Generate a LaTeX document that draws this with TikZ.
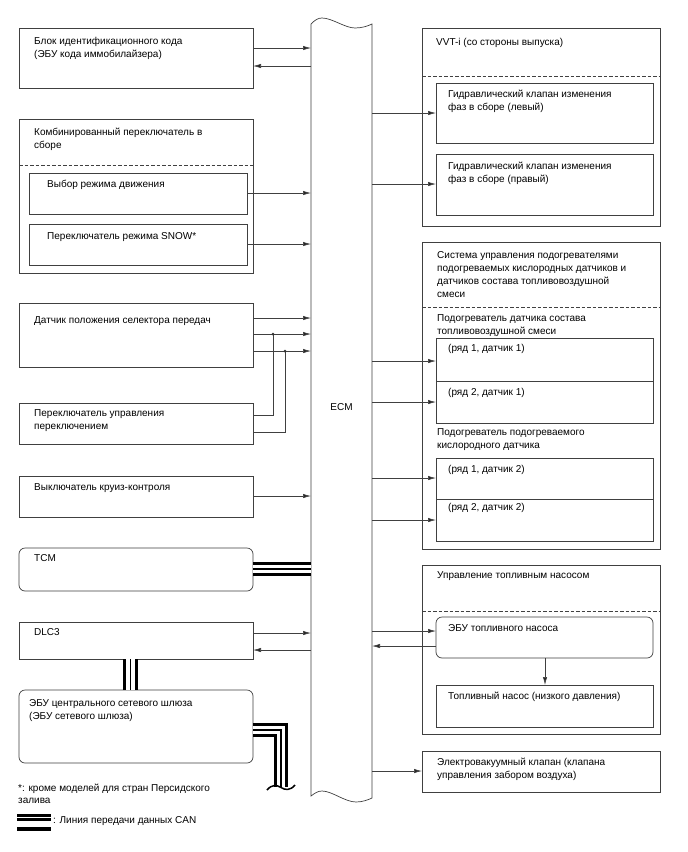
\documentclass[tikz,border=0pt]{standalone}
\usepackage{fontspec}
\setmainfont{Liberation Sans}
\usetikzlibrary{arrows.meta}
\newcommand{\canline}[1]{\draw[line width=14.5pt] #1; \draw[white,line width=8.5pt] #1; \draw[line width=1.6pt] #1;}
\begin{document}
\begin{tikzpicture}[x=1pt,y=-1pt,line join=miter,
  ln/.style={draw=black!75, line width=0.7pt},
  box/.style={ln, rectangle, inner sep=0pt, outer sep=0pt, anchor=north west},
  rbox/.style={box, rounded corners=6pt},
  lbl/.style={anchor=base west, inner sep=0pt, align=left, font=\fontsize{10}{13}\selectfont},
  arr/.style={ln, -{Latex[length=8pt,width=4.4pt,fill=black!85]}},
  dsh/.style={ln, dash pattern=on 3.5pt off 2pt},
]
\useasboundingbox[fill=white] (0,0) rectangle (688,852);

% ECM
\node[inner sep=0pt, outer sep=0pt, minimum width=61pt, minimum height=772pt, anchor=north west] (ecm) at (311,24) {};
\draw[ln] (311,24) .. controls (315,20) and (318,18) .. (322,18) .. controls (332,18) and (345,28) .. (355,28) .. controls (362,28) and (368,26) .. (372,24) -- (372,798) .. controls (368,800) and (362,802) .. (356,802) .. controls (345,802) and (332,791) .. (322,791) .. controls (318,791) and (315,793) .. (311,796) -- cycle;
\node[font=\fontsize{10}{13}\selectfont, inner sep=0pt] (ecmtext) at (341.5,407) {ECM};

% left side
\node[box, minimum width=234pt, minimum height=60pt] (id) at (19,28) {};
\node[lbl] (idt) at (34,57) {Блок идентификационного кода\\(ЭБУ кода иммобилайзера)};
\draw[arr] (id.east |- 0,48) -- (ecm.west |- 0,48);
\draw[arr] (ecm.west |- 0,66) -- (id.east |- 0,66);

\node[box, minimum width=234pt, minimum height=154pt] (comb) at (19,119) {};
\node[lbl] (combt) at (34,148.5) {Комбинированный переключатель в\\сборе};
\draw[dsh] (comb.west |- 0,165) -- (comb.east |- 0,165);
\node[box, minimum width=218pt, minimum height=41pt] (drv) at (29,173) {};
\node[lbl] (drvt) at (47,187.5) {Выбор режима движения};
\draw[arr] (drv.east |- 0,193) -- (ecm.west |- 0,193);
\node[box, minimum width=218pt, minimum height=41pt] (snow) at (29,224) {};
\node[lbl] (snowt) at (47,239) {Переключатель режима SNOW*};
\draw[arr] (snow.east |- 0,244) -- (ecm.west |- 0,244);

\node[box, minimum width=234pt, minimum height=64pt] (sel) at (19,303) {};
\node[lbl] (selt) at (34,323.5) {Датчик положения селектора передач};
\draw[arr] (sel.east |- 0,318) -- (ecm.west |- 0,318);
\draw[arr] (sel.east |- 0,334) -- (ecm.west |- 0,334);
\draw[arr] (sel.east |- 0,351) -- (ecm.west |- 0,351);

\node[box, minimum width=234pt, minimum height=41pt] (shift) at (19,403) {};
\node[lbl] (shiftt) at (34,429.5) {Переключатель управления\\переключением};
\coordinate (j1) at (273,334);
\coordinate (j2) at (285,351);
\draw[ln] (shift.east |- 0,415) -| (j1);
\draw[ln] (shift.east |- 0,432) -| (j2);
\fill[black!80] (j1) circle (1.5pt);
\fill[black!80] (j2) circle (1.5pt);

\node[box, minimum width=234pt, minimum height=41pt] (cruise) at (19,476) {};
\node[lbl] (cruiset) at (34,490.5) {Выключатель круиз-контроля};
\draw[arr] (cruise.east |- 0,496) -- (ecm.west |- 0,496);

\node[rbox, minimum width=234pt, minimum height=43pt] (tcm) at (19,548) {};
\node[lbl] (tcmt) at (34,561.5) {TCM};
\canline{(tcm.east |- 0,569) -- (ecm.west |- 0,569)}

\node[box, minimum width=234pt, minimum height=37pt] (dlc) at (19,622) {};
\node[lbl] (dlct) at (34,635.5) {DLC3};
\draw[arr] (dlc.east |- 0,633) -- (ecm.west |- 0,633);
\draw[arr] (ecm.west |- 0,650) -- (dlc.east |- 0,650);

\node[rbox, minimum width=234pt, minimum height=73pt] (gw) at (19,690) {};
\node[lbl] (gwt) at (29,719.5) {ЭБУ центрального сетевого шлюза\\(ЭБУ сетевого шлюза)};
\canline{(dlc.south -| 130.5,0) -- (gw.north -| 130.5,0)}
\coordinate (gwb) at (281,730);
\coordinate (gwe) at (281,787);
\canline{(gw.east |- gwb) -- (gwb) -- (gwe)}
\draw[line width=1.5pt] (267,790) .. controls (272,784) and (277,785) .. (281,787.5) .. controls (285,790) and (290,791) .. (295,785);

\node[lbl, font=\fontsize{10}{11.5}\selectfont] (note) at (18,803) {*: кроме моделей для стран Персидского\\залива};
\fill (17,814) rectangle (51,816.7);
\fill (17,818.3) rectangle (51,820.7);
\fill (17,827) rectangle (51,830.7);
\node[lbl] (leg) at (53,823.5) {: Линия передачи данных CAN};

% right side
\node[box, minimum width=238pt, minimum height=198pt] (vvt) at (422,28) {};
\node[lbl] (vvtt) at (436,45.5) {VVT-i (со стороны выпуска)};
\draw[dsh] (vvt.west |- 0,76) -- (vvt.east |- 0,76);
\node[box, minimum width=217pt, minimum height=60pt] (ocvl) at (436,83) {};
\node[lbl] (ocvlt) at (448,110.5) {Гидравлический клапан изменения\\фаз в сборе (левый)};
\draw[arr] (ecm.east |- 0,113) -- (ocvl.west |- 0,113);
\node[box, minimum width=217pt, minimum height=61pt] (ocvr) at (436,154) {};
\node[lbl] (ocvrt) at (448,182) {Гидравлический клапан изменения\\фаз в сборе (правый)};
\draw[arr] (ecm.east |- 0,184) -- (ocvr.west |- 0,184);

\node[box, minimum width=238pt, minimum height=307pt] (heat) at (422,242) {};
\node[lbl] (heatt) at (437,297.5) {Система управления подогревателями\\подогреваемых кислородных датчиков и\\датчиков состава топливовоздушной\\смеси};
\draw[dsh] (heat.west |- 0,307) -- (heat.east |- 0,307);
\node[lbl] (aft) at (437,334.5) {Подогреватель датчика состава\\топливовоздушной смеси};
\node[box, minimum width=217pt, minimum height=85pt] (af) at (436,338) {};
\draw[ln] (af.west |- 0,381) -- (af.east |- 0,381);
\node[lbl] (af1) at (448,351.5) {(ряд 1, датчик 1)};
\node[lbl] (af2) at (448,395.5) {(ряд 2, датчик 1)};
\draw[arr] (ecm.east |- 0,361) -- (af.west |- 0,361);
\draw[arr] (ecm.east |- 0,402) -- (af.west |- 0,402);
\node[lbl] (o2t) at (437,448.5) {Подогреватель подогреваемого\\кислородного датчика};
\node[box, minimum width=217pt, minimum height=83pt] (o2) at (436,458) {};
\draw[ln] (o2.west |- 0,499) -- (o2.east |- 0,499);
\node[lbl] (o21) at (448,472.5) {(ряд 1, датчик 2)};
\node[lbl] (o22) at (448,510.5) {(ряд 2, датчик 2)};
\draw[arr] (ecm.east |- 0,478) -- (o2.west |- 0,478);
\draw[arr] (ecm.east |- 0,520) -- (o2.west |- 0,520);

\node[box, minimum width=238pt, minimum height=169pt] (fp) at (422,565) {};
\node[lbl] (fpt) at (437,578.5) {Управление топливным насосом};
\draw[dsh] (fp.west |- 0,611) -- (fp.east |- 0,611);
\node[rbox, minimum width=217pt, minimum height=41pt] (fpecu) at (436,617) {};
\node[lbl] (fpecut) at (448,631.5) {ЭБУ топливного насоса};
\draw[arr] (ecm.east |- 0,631) -- (fpecu.west |- 0,631);
\draw[arr] (fpecu.west |- 0,646) -- (ecm.east |- 0,646);
\node[box, minimum width=217pt, minimum height=42pt] (pump) at (436,685) {};
\node[lbl] (pumpt) at (448,699.5) {Топливный насос (низкого давления)};
\draw[arr] (fpecu.south -| 545,0) -- (pump.north -| 545,0);

\node[box, minimum width=238pt, minimum height=41pt] (vsv) at (422,751) {};
\node[lbl] (vsvt) at (437,778.5) {Электровакуумный клапан (клапана\\управления забором воздуха)};
\draw[arr] (ecm.east |- 0,771) -- (vsv.west |- 0,771);
\end{tikzpicture}
\end{document}
